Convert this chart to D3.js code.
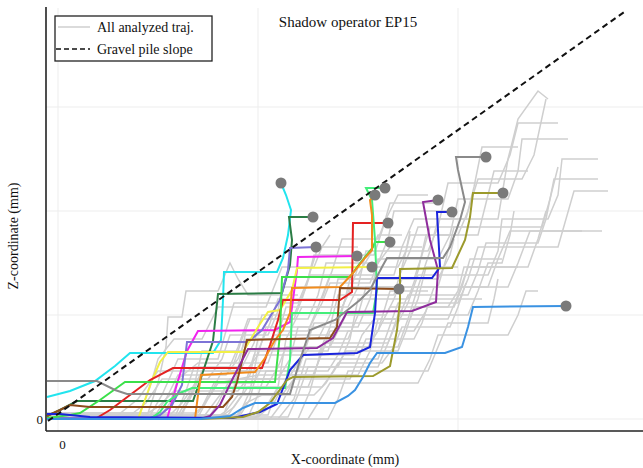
<!DOCTYPE html>
<html><head><meta charset="utf-8">
<script src="https://cdn.jsdelivr.net/npm/d3@7"></script>
<style>body{margin:0;background:#fff}svg{display:block}text{font-family:"Liberation Serif","DejaVu Serif","Times New Roman",Times,serif;fill:#111}</style>
</head><body><div id="chart"></div>
<script>
// Units: mm. x = horizontal distance, y = vertical (Z) height.
const title = "Shadow operator EP15";
const xLabel = "X-coordinate (mm)";
const yLabel = "Z-coordinate (mm)";
const xTickLabels = ["0"];
const yTickLabels = ["0"];
const xGrid = [0, 100, 200];
const yGrid = [0, 52, 104, 156];
const slopeX = [-5, 284.5];
const slopeY = [-1, 204.5];

// Highlighted trajectories (x, z pairs)
const trajCyan = [[-5.5,11],[6,14],[18.5,19],[28.5,26.5],[36,33],[77.5,33],[81.5,39.5],[82.5,59.5],[83,73.5],[109.5,73.5],[112.5,80.5],[115,92],[116.5,104.5],[114,112],[111.5,118]];
const trajDarkGreen = [[-5.5,1.5],[1,4.5],[9.5,9],[67.5,9],[71,19],[77.5,39],[80,62.5],[112,63],[116,77],[117,89.5],[115.5,101],[127.5,101]];
const trajMagenta = [[-5.5,0],[54.5,0],[59.5,17.5],[64.5,34],[70,44],[108.5,44.5],[116,48.5],[119.5,74.5],[120,81],[149.5,81.5]];
const trajSlate = [[-5.5,0.5],[46,0.5],[51,2],[57,7],[62,17],[64.5,38.5],[95,38.5],[102,44.5],[111,59.5],[115,74.5],[116,85.5],[129,86]];
const trajYellow = [[-5.5,0],[40,0],[43.5,9.5],[47,19.5],[51,28.5],[55,33.5],[92.5,33.5],[100,46],[105,53.5],[111,54.5],[117,64.5],[119.5,75.5],[157,76]];
const trajRed = [[-5.5,0],[18.5,0],[26,4.5],[36,12],[46,19.5],[57.5,25.5],[102,25.5],[106,37],[110,49.5],[112.5,59.5],[141,59.5],[147,63.5],[147.5,98],[165,98]];
const trajLime = [[-5.5,0.5],[6,2],[11,3],[21,9.5],[33.5,18.5],[108.5,18.5],[111,42.5],[112,71],[146,71],[149.5,76],[157.5,86],[158.5,88.5],[166,88.5]];
const trajSpring = [[-5.5,0],[46,0],[51,3.5],[54.5,8.5],[61,13],[67,15.5],[113.5,15.5],[116,29.5],[117,53],[157.5,53],[159.5,64.5],[158.5,89.5],[157,109.5],[154,115.5],[163.5,115.5]];
const trajOrange = [[-5.5,0],[68.5,0],[70,12],[71.5,22],[98.5,23.5],[103.5,30.5],[108.5,39.5],[112.5,44.5],[116,53],[117,65.5],[141,66],[147.5,73],[153.5,80.5],[157,84.5],[157,102],[156,109.5],[158.5,112]];
const trajBrown = [[-5.5,1.5],[1,4.5],[6,7],[16,6],[82.5,6],[87,11],[89.5,18.5],[94.5,39.5],[136,40.5],[139.5,46],[141,65.5],[170.5,65]];
const trajPurple = [[-5.5,0],[71,0],[76,1.5],[81,7],[87,19.5],[95,35],[129.5,35.5],[137.5,40.5],[144.5,53.5],[177,54],[189,58.5],[190,74.5],[186,89.5],[182.5,108.5],[190,109.5]];
const trajBlue = [[-5.5,2.5],[1,2.5],[16,1],[87.5,0.5],[101,3.5],[109.5,7.5],[116,24.5],[122.5,32],[149.5,33],[156,36],[158.5,53],[159.5,70.5],[187,70.5],[191,76],[189.5,103.5],[197,103.5]];
const trajGray = [[-5.5,19],[19.5,19],[28.5,14.5],[34.5,12.5],[116,12.5],[121,29.5],[126,44.5],[138.5,49.5],[151,59.5],[156,64.5],[162,76],[164.5,80.5],[192.5,80.5],[196,86],[201,99.5],[203.5,108.5],[200,124.5],[199,131],[214,131]];
const trajOlive = [[-5.5,0],[71,0],[92.5,1],[100,3.5],[106,8],[114.5,19.5],[117.5,21],[157.5,21.5],[166,26.5],[169.5,44.5],[171,59.5],[171,75],[197,75.5],[203.5,89.5],[206,101],[207.5,113],[222.5,113]];
const trajLightBlue = [[-5.5,0],[71,0],[86,1.5],[92.5,5.5],[98.5,8],[138.5,8],[145,11.5],[148.5,14.5],[152.5,21],[156,28],[159.5,33],[193.5,33],[202,36],[205,46],[207.5,56],[254,56.5]];

const highlighted = [
  {name:"cyan", color:"#22e4ee", pts:trajCyan},
  {name:"darkgreen", color:"#2b7d45", pts:trajDarkGreen},
  {name:"magenta", color:"#f024ee", pts:trajMagenta},
  {name:"slate", color:"#7d74d6", pts:trajSlate},
  {name:"yellow", color:"#f2f046", pts:trajYellow},
  {name:"red", color:"#e42222", pts:trajRed},
  {name:"lime", color:"#3be04a", pts:trajLime},
  {name:"spring", color:"#44ee7a", pts:trajSpring},
  {name:"orange", color:"#f28c1c", pts:trajOrange},
  {name:"brown", color:"#8c4c1c", pts:trajBrown},
  {name:"purple", color:"#8e2c9c", pts:trajPurple},
  {name:"blue", color:"#1a24dc", pts:trajBlue},
  {name:"gray", color:"#8a8a8a", pts:trajGray},
  {name:"olive", color:"#9c9a2c", pts:trajOlive},
  {name:"lightblue", color:"#3a92e2", pts:trajLightBlue}
];

// All analyzed trajectories (background)
const g01 = [[-5.5,0],[40,0],[50,6],[58,14],[90,14],[96,22],[100,40],[130,40],[136,52],[140,70],[170,70],[176,84],[180,96],[210,96]];
const g02 = [[-5.5,1],[55,1],[62,8],[70,20],[110,20],[116,30],[120,46],[150,46],[156,60],[160,80],[190,80],[196,92],[200,110],[225,110],[230,124],[232,140],[255,140]];
const g03 = [[-5.5,0],[80,0],[88,6],[95,16],[125,16],[130,28],[134,38],[165,38],[170,50],[175,62],[205,62],[210,74],[214,88],[240,88],[244,100],[248,120],[270,120]];
const g04 = [[-5.5,2],[30,2],[40,10],[50,24],[85,24],[90,36],[95,50],[125,50],[130,62],[134,78],[160,78],[165,90],[168,104],[195,104]];
const g05 = [[-5.5,0],[60,0],[66,10],[74,28],[105,28],[110,42],[114,56],[145,56],[150,66],[154,84],[185,84],[190,96],[195,118],[220,118],[226,132],[230,148],[250,148]];
const g06 = [[-5.5,1],[100,1],[108,8],[115,22],[150,22],[156,34],[160,50],[195,50],[200,62],[205,76],[235,76],[240,90],[244,104]];
const g07 = [[-5.5,0],[45,0],[52,12],[60,30],[80,30],[84,44],[88,58],[120,58],[125,70],[130,86],[150,86]];
const g08 = [[-5.5,3],[70,3],[76,12],[82,24],[120,24],[124,36],[128,48],[170,48],[175,58],[180,72],[215,72],[220,84],[222,100],[245,100],[250,112],[252,130],[270,130]];
const g09 = [[-5.5,0],[90,0],[96,10],[100,26],[140,26],[146,40],[150,60],[175,60],[180,74],[184,92],[210,92],[214,108],[218,124],[235,124]];
const g10 = [[-5.5,0],[110,0],[118,10],[124,30],[160,30],[165,44],[170,58],[200,58],[205,70],[210,86],[250,86],[254,100],[258,114],[275,114]];
const g11 = [[-5.5,1],[35,1],[44,8],[52,20],[75,20],[82,30],[86,42],[105,42],[110,54],[112,66],[140,66]];
const g12 = [[-5.5,0],[65,0],[72,6],[78,18],[98,18],[104,30],[108,42],[138,42],[142,54],[146,70],[178,70],[182,82],[186,96]];
const g13 = [[-5.5,2],[85,2],[92,12],[98,32],[130,32],[136,46],[140,62],[168,62],[172,76],[176,92],[200,92],[205,104],[210,120],[232,120],[238,132],[244,160]];
const g14 = [[-5.5,0],[120,0],[126,14],[132,36],[170,36],[175,50],[180,66],[215,66],[220,80],[226,94],[262,94]];
const g15 = [[-5.5,3],[45,3],[50,18],[54,36],[55,51],[62,51],[64,64],[80,64],[86,78],[90,70],[95,62],[120,62]];
const g16 = [[-5.5,0],[75,0],[80,8],[86,20],[115,20],[120,28],[126,36],[155,36],[160,44],[166,56],[195,56],[200,64],[203,76],[230,76]];
const g17 = [[-5.5,1],[95,1],[100,12],[104,24],[135,24],[140,32],[145,44],[178,44],[184,54],[188,66],[225,66],[230,78],[236,94],[272,94]];
const g18 = [[-5.5,0],[58,0],[64,14],[68,26],[92,26],[98,38],[102,52],[118,52],[124,66],[128,82],[158,82],[162,94],[166,108],[190,108]];
const g19 = [[-5.5,2],[105,2],[110,16],[114,40],[145,40],[150,52],[154,66],[190,66],[194,80],[198,96],[242,96],[246,110],[250,126]];
const g20 = [[-5.5,0],[125,0],[130,8],[136,18],[180,18],[186,30],[190,42],[225,42],[230,52],[234,64],[240,64]];
const g21 = [[-5.5,1],[90,1],[96,14],[100,34],[135,34],[140,50],[146,66],[180,66],[186,84],[190,100],[220,100],[225,130],[230,150],[240,164],[245,160]];
const g22 = [[-5.5,0],[135,0],[140,10],[145,24],[185,24],[190,36],[195,48],[215,48],[218,60],[220,70]];
const g23 = [[-5.5,2],[62,2],[68,16],[72,34],[100,34],[106,48],[110,60],[132,60],[137,74],[142,90],[160,90],[164,100],[170,112],[185,112]];
const g24 = [[-5.5,0],[82,0],[88,16],[94,44],[125,44],[130,56],[136,72],[168,72],[172,86],[178,100],[204,100],[208,116],[212,136],[230,136]];
const g25 = [[-5.5,1],[115,1],[120,12],[125,26],[160,26],[165,38],[170,52],[205,52],[210,64],[215,78],[222,78],[226,92],[228,104]];
const g26 = [[-5.5,0],[50,0],[56,8],[60,20],[70,28],[88,28],[92,40],[96,50],[118,50],[122,60],[126,72],[150,72],[156,82],[160,92],[172,92]];
const g27 = [[-5.5,1],[70,1],[75,10],[80,18],[100,22],[128,22],[132,34],[136,44],[160,44],[163,54],[166,64],[185,64]];
const g28 = [[-5.5,0],[78,0],[84,4],[90,12],[112,12],[118,20],[122,32],[148,32],[152,42],[158,50],[176,50],[180,60],[184,76],[200,76]];
const g29 = [[-5.5,0],[88,0],[94,8],[102,12],[128,12],[134,18],[140,28],[162,28],[168,36],[172,46],[196,46],[200,56],[204,68]];
const g30 = [[-5.5,2],[60,2],[66,12],[72,24],[94,24],[100,32],[104,46],[126,46],[132,58],[136,68],[156,68],[160,78],[166,86],[182,86]];
const g31 = [[-5.5,0],[98,0],[104,6],[110,16],[132,16],[138,24],[144,34],[170,34],[174,44],[178,56],[198,56],[202,66],[206,80],[222,80]];
const g32 = [[-5.5,1],[48,1],[54,10],[60,22],[84,22],[90,30],[94,40],[114,40],[118,48],[122,56],[142,56],[146,64],[150,76],[170,76],[174,84],[176,94]];
const g33 = [[-5.5,0],[106,0],[112,8],[118,20],[146,20],[150,30],[154,40],[178,40],[182,48],[186,60],[212,60]];
const g34 = [[-5.5,0],[72,0],[78,8],[84,16],[104,16],[110,26],[114,36],[136,36],[140,44],[144,52],[164,52],[168,60],[172,70],[190,70],[196,82],[198,90]];
const g35 = [[-5.5,1],[40,1],[46,16],[50,30],[58,40],[72,40],[76,48],[80,56],[104,56],[108,66],[112,76],[128,76],[132,86],[136,92]];
const backgroundTraj = [g01,g02,g03,g04,g05,g06,g07,g08,g09,g10,g11,g12,g13,g14,g15,g16,g17,g18,g19,g20,g21,g22,g23,g24,g25,g26,g27,g28,g29,g30,g31,g32,g33,g34,g35];

const W = 643, H = 468;
const svg = d3.select("#chart").append("svg").attr("width", W).attr("height", H);

const x = d3.scaleLinear().domain([-6, 292.5]).range([46, 643]);
const y = d3.scaleLinear().domain([-6, 205.5]).range([431, 8]);

// grid
const grid = svg.append("g").attr("stroke", "#ededed").attr("stroke-width", 1);
grid.selectAll(".gx").data(xGrid).join("line")
  .attr("x1", d => x(d)).attr("x2", d => x(d)).attr("y1", 8).attr("y2", 431);
grid.selectAll(".gy").data(yGrid).join("line")
  .attr("x1", 46).attr("x2", 643).attr("y1", d => y(d)).attr("y2", d => y(d));

const line = d3.line().x(d => x(d[0])).y(d => y(d[1]));

svg.append("g").selectAll("path").data(backgroundTraj).join("path")
  .attr("d", line).attr("fill", "none").attr("stroke", "#cfcfcf").attr("stroke-width", 1.5);

svg.append("g").selectAll("path").data(highlighted).join("path")
  .attr("d", d => line(d.pts)).attr("fill", "none").attr("stroke", d => d.color).attr("stroke-width", 2);

// gravel pile slope
svg.append("line")
  .attr("x1", x(slopeX[0])).attr("y1", y(slopeY[0])).attr("x2", x(slopeX[1])).attr("y2", y(slopeY[1]))
  .attr("stroke", "#111").attr("stroke-width", 2).attr("stroke-dasharray", "6,4");

// end points
svg.append("g").selectAll("circle").data(highlighted).join("circle")
  .attr("cx", d => x(d.pts[d.pts.length-1][0])).attr("cy", d => y(d.pts[d.pts.length-1][1]))
  .attr("r", 5.5).attr("fill", "#7a7a7a");

// axes
const serif = '"Liberation Serif","DejaVu Serif","Times New Roman",Times,serif';
const xAxis = d3.axisBottom(x).tickValues([0]).tickFormat((d,i) => xTickLabels[i]).tickSize(0).tickPadding(9);
const yAxis = d3.axisLeft(y).tickValues([0]).tickFormat((d,i) => yTickLabels[i]).tickSize(0).tickPadding(3);
const gx = svg.append("g").attr("transform", "translate(0,431)").call(xAxis);
const gy = svg.append("g").attr("transform", "translate(46,0)").call(yAxis);
[gx, gy].forEach(g => {
  g.attr("font-family", serif);
  g.select(".domain").remove();
  g.selectAll("text").style("font-family", serif).style("font-size", "13px").attr("fill", "#111");
});
gx.select("text").attr("x", 4);
svg.append("line").attr("x1", 46).attr("x2", 643).attr("y1", 431).attr("y2", 431).attr("stroke", "#222").attr("stroke-width", 1.6);
svg.append("line").attr("x1", 46).attr("x2", 46).attr("y1", 7).attr("y2", 431).attr("stroke", "#222").attr("stroke-width", 1.6);

svg.append("text").attr("x", 345).attr("y", 464).attr("text-anchor", "middle").style("font-family", serif).style("font-size", "14px").text(xLabel);
svg.append("text").attr("transform", "translate(18,236) rotate(-90)").attr("text-anchor", "middle").style("font-family", serif).style("font-size", "14px").text(yLabel);
svg.append("text").attr("x", 348).attr("y", 27).attr("text-anchor", "middle").style("font-family", serif).style("font-size", "15px").text(title);

// legend
const lg = svg.append("g");
lg.append("rect").attr("x", 55).attr("y", 16).attr("width", 157).attr("height", 45).attr("fill", "#fff").attr("stroke", "#222").attr("stroke-width", 1.3);
lg.append("line").attr("x1", 58).attr("x2", 90).attr("y1", 27).attr("y2", 27).attr("stroke", "#cfcfcf").attr("stroke-width", 1.5);
lg.append("line").attr("x1", 56).attr("x2", 90).attr("y1", 49).attr("y2", 49).attr("stroke", "#111").attr("stroke-width", 1.6).attr("stroke-dasharray", "5,3");
lg.append("text").attr("x", 97).attr("y", 32).style("font-family", serif).style("font-size", "14px").text("All analyzed traj.");
lg.append("text").attr("x", 97).attr("y", 54).style("font-family", serif).style("font-size", "14px").text("Gravel pile slope");
</script></body></html>
